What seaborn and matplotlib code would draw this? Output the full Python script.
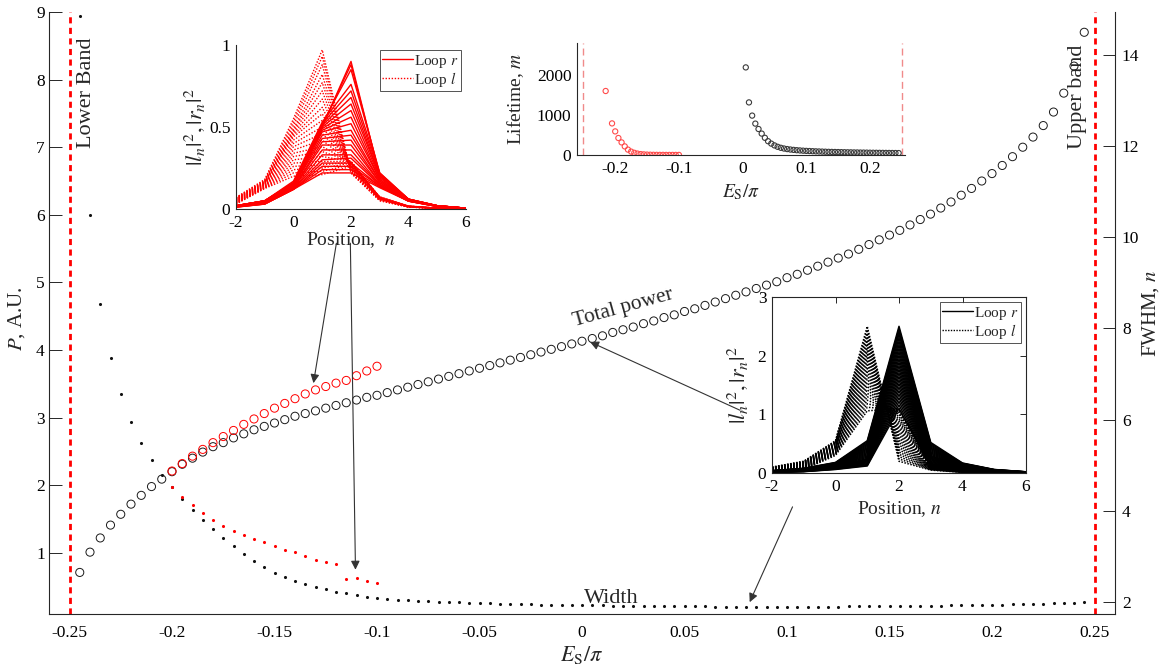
import numpy as np
import pandas as pd
import matplotlib
matplotlib.use("Agg")
import matplotlib.pyplot as plt
from matplotlib.lines import Line2D
import seaborn as sns

sns.set_theme(style="white")
plt.rcParams["font.family"] = ["Liberation Serif", "DejaVu Serif"]
plt.rcParams["mathtext.fontset"] = "stix"
plt.rcParams["axes.unicode_minus"] = False

# ---------------------------------------------------------------- data
# state energies E_S/pi, spaced by 0.005
ES = np.round(np.arange(-49, 50) * 0.005, 3)

# total power of every state (left axis)
total_power = [
    0.71, 1.01, 1.22, 1.41, 1.57, 1.72, 1.85, 1.98, 2.09, 2.20, 2.31, 2.40, 2.49, 2.57, 2.63, 2.70,
    2.76, 2.82, 2.87, 2.92, 2.97, 3.02, 3.06, 3.10, 3.14, 3.18, 3.22, 3.26, 3.30, 3.33,
    3.37, 3.41, 3.45, 3.49, 3.53, 3.57, 3.61, 3.65, 3.69, 3.73, 3.77, 3.81, 3.85, 3.89, 3.93, 3.97, 4.01, 4.05, 4.09, 4.13,
    4.17, 4.21, 4.26, 4.30, 4.34, 4.39, 4.43, 4.48, 4.52, 4.57, 4.61, 4.66, 4.71, 4.76, 4.81, 4.86, 4.91, 4.96, 5.01, 5.07,
    5.12, 5.18, 5.24, 5.30, 5.36, 5.42, 5.49, 5.56, 5.63, 5.70, 5.77, 5.85, 5.93, 6.01, 6.10, 6.19, 6.29, 6.39, 6.50, 6.61,
    6.73, 6.86, 7.00, 7.15, 7.32, 7.52, 7.80, 8.20, 8.70,
]

# FWHM of every state (right axis)
fwhm = [
    14.85, 10.49, 8.54, 7.35, 6.56, 5.95, 5.49, 5.11, 4.79,
    4.52, 4.26, 4.02, 3.80, 3.60, 3.41, 3.23, 3.05, 2.90, 2.76, 2.64, 2.55, 2.46, 2.39, 2.33, 2.28, 2.23, 2.20, 2.16, 2.12, 2.09,
    2.07, 2.05, 2.04, 2.03, 2.02, 2.01, 2.00, 1.99, 1.98, 1.98, 1.97, 1.96, 1.96, 1.95, 1.95, 1.94, 1.94, 1.94, 1.93, 1.93,
    1.93, 1.93, 1.92, 1.92, 1.92, 1.92, 1.91, 1.91, 1.91, 1.91, 1.91, 1.91, 1.90, 1.90, 1.90, 1.90, 1.90, 1.90, 1.90, 1.90,
    1.90, 1.90, 1.90, 1.90, 1.90, 1.91, 1.91, 1.91, 1.91, 1.91, 1.91, 1.92, 1.92, 1.92, 1.92, 1.93, 1.93, 1.93, 1.94, 1.94,
    1.94, 1.95, 1.95, 1.96, 1.96, 1.97, 1.97, 1.98, 1.99,
]

# second branch, E_S/pi from -0.2 to -0.1
ES_RED = ES[(ES > -0.2001) & (ES < -0.0999)]
red_power = [2.21, 2.32, 2.43, 2.53, 2.63, 2.72, 2.81, 2.90, 2.98, 3.06, 3.14,
             3.21, 3.28, 3.35, 3.41, 3.46, 3.51, 3.55, 3.62, 3.69, 3.76]
red_fwhm = [4.52, 4.31, 4.12, 3.95, 3.80, 3.67, 3.56, 3.47, 3.38, 3.31, 3.23,
            3.15, 3.09, 3.01, 2.92, 2.88, 2.83, 2.50, 2.52, 2.47, 2.42]

# lifetimes
ES_LIFE_RED = ES[(ES > -0.2151) & (ES < -0.0999)]
lifetime_red = [1600, np.nan, 790, 590, 425, 315, 215, 135, 85, 55, 35, 22,
                15, 10, 7, 5, 4, 3, 3, 2, 2, 2, 2, 2]
ES_LIFE_BLACK = ES[(ES > 0.0049)]
lifetime_black = [2190, 1315, 985, 785, 650, 535, 430, 345, 285, 240,
                  205, 180, 162, 148, 137, 128, 120, 114, 108, 103,
                  99, 95, 91, 88, 85, 82, 79, 77, 75, 73,
                  71, 69, 67, 66, 64, 63, 61, 60, 59, 57,
                  56, 55, 54, 53, 52, 51, 50, 49, 48]

# mode profiles |r_n|^2 and |l_n|^2 at positions n
POSITIONS = [-2, -1, 0, 1, 2, 3, 4, 5, 6]

# lower branch: one row per state
red_loop_r = [
    [0.020, 0.050, 0.150, 0.500, 0.900, 0.200, 0.060, 0.020, 0.005],
    [0.020, 0.050, 0.160, 0.510, 0.880, 0.210, 0.060, 0.020, 0.005],
    [0.020, 0.050, 0.160, 0.520, 0.850, 0.220, 0.060, 0.020, 0.005],
    [0.020, 0.050, 0.170, 0.530, 0.760, 0.220, 0.060, 0.020, 0.005],
    [0.020, 0.050, 0.160, 0.520, 0.720, 0.210, 0.060, 0.020, 0.005],
    [0.020, 0.050, 0.160, 0.510, 0.680, 0.200, 0.060, 0.020, 0.005],
    [0.020, 0.050, 0.150, 0.500, 0.640, 0.200, 0.055, 0.020, 0.005],
    [0.020, 0.045, 0.150, 0.490, 0.600, 0.190, 0.055, 0.020, 0.005],
    [0.020, 0.045, 0.150, 0.480, 0.560, 0.180, 0.055, 0.020, 0.005],
    [0.018, 0.045, 0.140, 0.470, 0.520, 0.180, 0.055, 0.020, 0.005],
    [0.018, 0.040, 0.140, 0.450, 0.480, 0.170, 0.055, 0.018, 0.005],
    [0.016, 0.040, 0.140, 0.430, 0.450, 0.170, 0.050, 0.018, 0.005],
    [0.016, 0.040, 0.130, 0.410, 0.420, 0.160, 0.050, 0.018, 0.005],
    [0.015, 0.038, 0.130, 0.390, 0.390, 0.160, 0.050, 0.018, 0.005],
    [0.015, 0.036, 0.130, 0.360, 0.360, 0.150, 0.050, 0.017, 0.005],
    [0.014, 0.035, 0.125, 0.330, 0.330, 0.150, 0.050, 0.017, 0.005],
    [0.014, 0.034, 0.125, 0.300, 0.310, 0.145, 0.050, 0.016, 0.005],
    [0.013, 0.032, 0.120, 0.280, 0.280, 0.140, 0.048, 0.016, 0.005],
    [0.012, 0.031, 0.120, 0.260, 0.260, 0.140, 0.048, 0.015, 0.005],
    [0.012, 0.030, 0.120, 0.240, 0.240, 0.135, 0.048, 0.015, 0.005],
    [0.011, 0.030, 0.120, 0.220, 0.220, 0.130, 0.048, 0.015, 0.005],
]
red_loop_l = [
    [0.070, 0.180, 0.550, 0.970, 0.220, 0.050, 0.012, 0.004, 0.001],
    [0.068, 0.175, 0.530, 0.930, 0.220, 0.052, 0.012, 0.004, 0.001],
    [0.066, 0.170, 0.510, 0.880, 0.230, 0.054, 0.012, 0.004, 0.001],
    [0.064, 0.168, 0.490, 0.820, 0.235, 0.056, 0.013, 0.004, 0.001],
    [0.062, 0.165, 0.480, 0.770, 0.240, 0.058, 0.013, 0.004, 0.001],
    [0.060, 0.162, 0.470, 0.720, 0.245, 0.060, 0.013, 0.004, 0.001],
    [0.058, 0.160, 0.460, 0.670, 0.250, 0.060, 0.014, 0.004, 0.001],
    [0.056, 0.158, 0.450, 0.620, 0.255, 0.062, 0.014, 0.004, 0.001],
    [0.054, 0.155, 0.440, 0.580, 0.260, 0.062, 0.014, 0.004, 0.001],
    [0.052, 0.152, 0.420, 0.540, 0.265, 0.064, 0.015, 0.004, 0.001],
    [0.050, 0.150, 0.400, 0.500, 0.270, 0.064, 0.015, 0.004, 0.001],
    [0.048, 0.148, 0.380, 0.460, 0.275, 0.066, 0.015, 0.004, 0.001],
    [0.046, 0.145, 0.360, 0.420, 0.280, 0.066, 0.016, 0.005, 0.001],
    [0.044, 0.142, 0.340, 0.380, 0.285, 0.068, 0.016, 0.005, 0.001],
    [0.042, 0.140, 0.320, 0.350, 0.290, 0.068, 0.016, 0.005, 0.001],
    [0.040, 0.138, 0.300, 0.320, 0.290, 0.070, 0.017, 0.005, 0.001],
    [0.038, 0.135, 0.280, 0.290, 0.290, 0.070, 0.017, 0.005, 0.001],
    [0.036, 0.132, 0.260, 0.270, 0.285, 0.072, 0.017, 0.005, 0.001],
    [0.034, 0.130, 0.240, 0.250, 0.280, 0.072, 0.018, 0.005, 0.001],
    [0.032, 0.128, 0.220, 0.230, 0.270, 0.074, 0.018, 0.005, 0.001],
    [0.030, 0.125, 0.200, 0.210, 0.260, 0.074, 0.018, 0.005, 0.001],
]

# upper branch: one row per position n, one column per state
black_loop_r_by_n = [
    [0.040, 0.039, 0.038, 0.037, 0.036, 0.035, 0.034, 0.033, 0.032, 0.030, 0.029, 0.028, 0.027,
     0.026, 0.024, 0.023, 0.022, 0.021, 0.019, 0.018, 0.016, 0.015, 0.013, 0.012, 0.010],
    [0.080, 0.078, 0.075, 0.072, 0.070, 0.067, 0.064, 0.061, 0.058, 0.055, 0.052, 0.050, 0.047,
     0.045, 0.043, 0.041, 0.039, 0.037, 0.035, 0.033, 0.031, 0.029, 0.027, 0.025, 0.023],
    [0.180, 0.175, 0.170, 0.165, 0.160, 0.155, 0.150, 0.145, 0.140, 0.135, 0.130, 0.125, 0.120,
     0.115, 0.110, 0.105, 0.100, 0.095, 0.090, 0.085, 0.080, 0.075, 0.070, 0.065, 0.060],
    [0.550, 0.530, 0.510, 0.490, 0.470, 0.450, 0.430, 0.410, 0.390, 0.370, 0.350, 0.330, 0.310,
     0.290, 0.270, 0.250, 0.235, 0.220, 0.205, 0.190, 0.175, 0.160, 0.145, 0.130, 0.120],
    [2.50, 2.46, 2.41, 2.36, 2.30, 2.24, 2.18, 2.12, 2.06, 2.00, 1.94, 1.88, 1.82,
     1.76, 1.70, 1.64, 1.58, 1.52, 1.46, 1.40, 1.34, 1.28, 1.22, 1.16, 1.10],
    [0.520, 0.500, 0.480, 0.460, 0.440, 0.420, 0.400, 0.380, 0.360, 0.340, 0.320, 0.300, 0.285,
     0.270, 0.255, 0.240, 0.225, 0.210, 0.195, 0.180, 0.165, 0.150, 0.135, 0.120, 0.100],
    [0.170, 0.165, 0.160, 0.155, 0.150, 0.145, 0.140, 0.135, 0.130, 0.125, 0.120, 0.115, 0.110,
     0.104, 0.098, 0.092, 0.086, 0.080, 0.073, 0.066, 0.060, 0.053, 0.046, 0.040, 0.032],
    [0.060, 0.058, 0.056, 0.054, 0.052, 0.050, 0.048, 0.046, 0.044, 0.042, 0.040, 0.038, 0.036,
     0.034, 0.032, 0.030, 0.028, 0.026, 0.024, 0.022, 0.020, 0.018, 0.016, 0.013, 0.010],
    [0.020, 0.020, 0.019, 0.018, 0.018, 0.017, 0.016, 0.016, 0.015, 0.014, 0.014, 0.013, 0.012,
     0.012, 0.011, 0.010, 0.010, 0.009, 0.008, 0.008, 0.007, 0.006, 0.006, 0.005, 0.005],
]
black_loop_l_by_n = [
    [0.100, 0.097, 0.094, 0.091, 0.088, 0.085, 0.082, 0.079, 0.076, 0.073, 0.070, 0.067, 0.064,
     0.061, 0.058, 0.055, 0.052, 0.049, 0.046, 0.043, 0.040, 0.037, 0.034, 0.031, 0.030],
    [0.200, 0.195, 0.190, 0.184, 0.178, 0.172, 0.166, 0.160, 0.154, 0.148, 0.142, 0.136, 0.130,
     0.124, 0.118, 0.112, 0.106, 0.100, 0.094, 0.088, 0.082, 0.076, 0.070, 0.064, 0.060],
    [0.550, 0.540, 0.530, 0.520, 0.510, 0.500, 0.490, 0.480, 0.470, 0.460, 0.450, 0.440, 0.430,
     0.420, 0.410, 0.400, 0.390, 0.380, 0.370, 0.360, 0.350, 0.340, 0.330, 0.320, 0.300],
    [2.50, 2.44, 2.38, 2.32, 2.26, 2.20, 2.14, 2.08, 2.02, 1.96, 1.90, 1.84, 1.78,
     1.72, 1.66, 1.60, 1.54, 1.48, 1.42, 1.36, 1.30, 1.24, 1.18, 1.12, 1.06],
    [0.200, 0.240, 0.280, 0.320, 0.360, 0.400, 0.440, 0.480, 0.520, 0.560, 0.600, 0.640, 0.680,
     0.720, 0.760, 0.800, 0.840, 0.880, 0.920, 0.960, 1.000, 1.030, 1.060, 1.080, 1.100],
    [0.050, 0.055, 0.060, 0.065, 0.070, 0.074, 0.078, 0.082, 0.086, 0.090, 0.094, 0.098, 0.102,
     0.106, 0.110, 0.114, 0.118, 0.122, 0.126, 0.130, 0.134, 0.138, 0.142, 0.146, 0.150],
    [0.010, 0.012, 0.013, 0.015, 0.016, 0.018, 0.019, 0.021, 0.022, 0.024, 0.025, 0.027, 0.028,
     0.030, 0.031, 0.033, 0.034, 0.036, 0.038, 0.040, 0.042, 0.044, 0.046, 0.048, 0.050],
    [0.005, 0.006, 0.006, 0.007, 0.007, 0.008, 0.008, 0.009, 0.009, 0.010, 0.010, 0.011, 0.011,
     0.012, 0.012, 0.013, 0.014, 0.014, 0.015, 0.016, 0.016, 0.017, 0.018, 0.019, 0.020],
    [0.002, 0.002, 0.003, 0.003, 0.003, 0.004, 0.004, 0.004, 0.005, 0.005, 0.005, 0.006, 0.006,
     0.006, 0.007, 0.007, 0.007, 0.008, 0.008, 0.008, 0.009, 0.009, 0.009, 0.010, 0.010],
]

ES_TICKS = [-0.25, -0.2, -0.15, -0.1, -0.05, 0, 0.05, 0.1, 0.15, 0.2, 0.25]
ES_TICK_LABELS = ["-0.25", "-0.2", "-0.15", "-0.1", "-0.05", "0", "0.05", "0.1", "0.15", "0.2", "0.25"]
BAND_EDGES = [-0.25, 0.25]

# ---------------------------------------------------------------- helpers
AX_COLOR = "#262626"
RED = "#ff0000"


def profile_frame(loop_r, loop_l):
    rows = []
    for name, curves in (("Loop l", loop_l), ("Loop r", loop_r)):
        for k, curve in enumerate(curves):
            for n, v in zip(POSITIONS, curve):
                rows.append({"n": n, "value": v, "loop": name, "state": k})
    return pd.DataFrame(rows)


def style_axes(a, size=12, length=7, pad=4, sides=("left", "bottom")):
    for s, sp in a.spines.items():
        sp.set_color(AX_COLOR)
        sp.set_linewidth(0.8)
        sp.set_visible(s in sides)
    a.tick_params(direction="in", length=length, width=0.7, colors=AX_COLOR,
                  labelcolor="black", labelsize=size, pad=pad)
    a.grid(False)


def open_scatter(a, x, y, color, s, lw=0.7):
    sns.scatterplot(x=x, y=y, ax=a, marker="o", s=s, linewidth=lw, legend=False, zorder=3)
    pts = a.collections[-1]
    pts.set_facecolor("none")
    pts.set_edgecolor(color)
    pts.set_linewidth(lw)


def dots(a, x, y, color, s=5):
    sns.scatterplot(x=x, y=y, ax=a, marker="o", s=s, color=color, linewidth=0,
                    legend=False, zorder=3)


def profile_legend(a, color, dots_pattern):
    handles = [Line2D([], [], color=color, lw=1.0),
               Line2D([], [], color=color, lw=1.0, linestyle=(0, dots_pattern))]
    lg = a.legend(handles, [r"Loop $r$", r"Loop $l$"], loc="upper right",
                  fontsize=11, frameon=True, fancybox=False, handlelength=2.0,
                  handletextpad=0.1, borderpad=0.15, labelspacing=0.0,
                  borderaxespad=0.35)
    lg.get_frame().set_edgecolor(AX_COLOR)
    lg.get_frame().set_linewidth(0.7)


# ---------------------------------------------------------------- figure
W, H = 1165, 669
fig = plt.figure(figsize=(W / 100, H / 100), dpi=100)
fig.patch.set_facecolor("white")


def frac(left, top, right, bottom):
    return [left / W, 1 - bottom / H, (right - left) / W, (bottom - top) / H]


ax = fig.add_axes(frac(49, 12, 1115, 614))
ax.set_facecolor("none")
ax2 = ax.twinx()

# main panel: total power (left) and width (right)
open_scatter(ax, ES, total_power, "#1a1a1a", s=34)
open_scatter(ax, ES_RED, red_power, RED, s=34)
dots(ax2, ES, fwhm, "#111111")
dots(ax2, ES_RED, red_fwhm, RED)

for edge in BAND_EDGES:
    ax.axvline(edge, color=RED, lw=2.0, linestyle=(0, (2.2, 1.6)), zorder=2)

ax.set_xlim(-0.26, 0.26)
ax.set_ylim(0.095, 9.0)
ax2.set_ylim(1.737, 14.94)
ax.set_xticks(ES_TICKS)
ax.set_xticklabels(ES_TICK_LABELS)
ax.set_yticks(range(1, 10))
ax2.set_yticks(range(2, 15, 2))
style_axes(ax, size=12.5, length=9, pad=3, sides=("left", "bottom"))
style_axes(ax2, size=12.5, length=9, pad=5, sides=("right",))
ax.tick_params(axis="x", pad=8)
ax2.spines["bottom"].set_visible(False)

ax.set_xlabel(r"$E_{\mathrm{S}}/\pi$", fontsize=16)
ax.xaxis.set_label_coords(0.5, -0.05)
ax.set_ylabel(r"$P$, A.U.", fontsize=15)
ax.yaxis.set_label_coords(-0.021, 0.49)
ax2.set_ylabel(r"FWHM, $n$", fontsize=15, rotation=90)
ax2.yaxis.set_label_coords(1.024, 0.5)

ax.text(-0.2415, 7.8, "Lower Band", rotation=90, fontsize=16, ha="center", va="center")
ax.text(0.2415, 7.75, "Upper band", rotation=90, fontsize=16, ha="center", va="center")
ax.text(0.020, 4.62, "Total power", rotation=15.5, fontsize=15.5, ha="center", va="center")
ax.text(0.0145, 0.33, "Width", fontsize=16, ha="center", va="center")

arrow_kw = dict(arrowstyle="-|>", color="#333333", lw=0.8, mutation_scale=13,
                shrinkA=0, shrinkB=0)
for tail, tip in [((-0.1198, 5.58), (-0.1310, 3.51)),
                  ((-0.1130, 5.58), (-0.1105, 0.75)),
                  ((0.0770, 3.11), (0.0039, 4.12)),
                  ((0.1027, 1.68), (0.0818, 0.27))]:
    ax.annotate("", xy=tip, xytext=tail, arrowprops=arrow_kw, annotation_clip=False)

# inset: lower-branch mode profiles
ax_a = fig.add_axes(frac(236, 45, 466, 209))
ax_a.set_facecolor("white")
sns.lineplot(data=profile_frame(red_loop_r, red_loop_l), x="n", y="value", units="state",
             estimator=None, style="loop", dashes={"Loop r": "", "Loop l": (1, 1.2)},
             color=RED, lw=1.0, legend=False, ax=ax_a, sort=False)
ax_a.set_xlim(-2, 6)
ax_a.set_ylim(0, 1)
ax_a.set_xticks([-2, 0, 2, 4, 6])
ax_a.set_xticklabels(["-2", "0", "2", "4", "6"])
ax_a.set_yticks([0, 0.5, 1])
ax_a.set_yticklabels(["0", "0.5", "1"])
style_axes(ax_a, size=12.5, length=4)
ax_a.set_xlabel(r"Position,  $n$", fontsize=14)
ax_a.xaxis.set_label_coords(0.5, -0.13)
ax_a.set_ylabel(r"$|l_n|^2, |r_n|^2$", fontsize=16)
ax_a.yaxis.set_label_coords(-0.125, 0.5)
profile_legend(ax_a, RED, (1, 1.2))

# inset: lifetimes
ax_b = fig.add_axes(frac(577, 43, 905, 155))
ax_b.set_facecolor("white")
open_scatter(ax_b, ES_LIFE_RED, lifetime_red, "#ff4a4a", s=14, lw=0.8)
open_scatter(ax_b, ES_LIFE_BLACK, lifetime_black, "#3a3a3a", s=14, lw=0.8)
for edge in BAND_EDGES:
    ax_b.axvline(edge, color="#f08a8a", lw=1.0, linestyle=(0, (5, 3)), zorder=1)
ax_b.set_xlim(-0.26, 0.255)
ax_b.set_ylim(0, 2800)
ax_b.set_xticks([-0.2, -0.1, 0, 0.1, 0.2])
ax_b.set_xticklabels(["-0.2", "-0.1", "0", "0.1", "0.2"])
ax_b.set_yticks([0, 1000, 2000])
style_axes(ax_b, size=12.5, length=4)
ax_b.set_xlabel(r"$E_{\mathrm{S}}/\pi$", fontsize=14)
ax_b.xaxis.set_label_coords(0.5, -0.24)
ax_b.set_ylabel(r"Lifetime, $m$", fontsize=14)
ax_b.yaxis.set_label_coords(-0.155, 0.5)

# inset: upper-branch mode profiles
ax_c = fig.add_axes(frac(772, 297, 1026, 473))
ax_c.set_facecolor("white")
black_r_rows = [list(col) for col in zip(*black_loop_r_by_n)]
black_l_rows = [list(col) for col in zip(*black_loop_l_by_n)]
sns.lineplot(data=profile_frame(black_r_rows, black_l_rows), x="n", y="value", units="state",
             estimator=None, style="loop", dashes={"Loop r": "", "Loop l": (1, 1.0)},
             color="black", lw=1.1, legend=False, ax=ax_c, sort=False)
ax_c.set_xlim(-2, 6)
ax_c.set_ylim(0, 3)
ax_c.set_xticks([-2, 0, 2, 4, 6])
ax_c.set_xticklabels(["-2", "0", "2", "4", "6"])
ax_c.set_yticks([0, 1, 2, 3])
style_axes(ax_c, size=12.5, length=4, sides=("left", "bottom", "right", "top"))
ax_c.tick_params(top=True, right=True)
ax_c.set_xlabel(r"Position, $n$", fontsize=14)
ax_c.xaxis.set_label_coords(0.5, -0.15)
ax_c.set_ylabel(r"$|l_n|^2, |r_n|^2$", fontsize=16)
ax_c.yaxis.set_label_coords(-0.085, 0.5)
profile_legend(ax_c, "black", (1, 1.0))

fig.savefig("out.png", dpi=100, facecolor="white")
